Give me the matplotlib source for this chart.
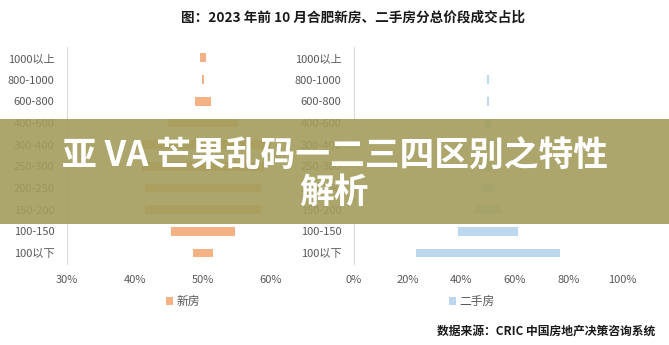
import matplotlib
matplotlib.use('Agg')
import matplotlib.pyplot as plt
from matplotlib.patches import Rectangle
from matplotlib.ticker import FuncFormatter

plt.rcParams['font.family'] = ['Noto Sans CJK SC', 'DejaVu Sans']

# price bands (bottom to top)
bands = ['100以下', '100-150', '150-200', '200-250', '250-300',
         '300-400', '400-600', '600-800', '800-1000', '1000以上']
new_share = [0.029, 0.094, 0.171, 0.170, 0.179, 0.200, 0.102, 0.024, 0.003, 0.010]
second_share = [0.540, 0.222, 0.095, 0.050, 0.030, 0.030, 0.020, 0.008, 0.004, 0.003]

title = '图：2023 年前 10 月合肥新房、二手房分总价段成交占比'
source = '数据来源：CRIC 中国房地产决策咨询系统'
banner = '亚 VA 芒果乱码一二三四区别之特性\n解析'

tick_color = '#595959'

fig = plt.figure(figsize=(6.69, 3.45), dpi=100)
ax1 = fig.add_axes([0.1001, 0.2348, 0.3049, 0.6290])
ax2 = fig.add_axes([0.5291, 0.2348, 0.4006, 0.6290])

pct = FuncFormatter(lambda v, p: f'{v*100:.0f}%')

for ax, vals, color, label, lim, ticks in [
        (ax1, new_share, '#F4B183', '新房', (0.3, 0.6), [0.3, 0.4, 0.5, 0.6]),
        (ax2, second_share, '#BDD7EE', '二手房', (0, 1.0), [0, 0.2, 0.4, 0.6, 0.8, 1.0])]:
    left = [0.5 - v / 2 for v in vals]
    ax.barh(bands, vals, left=left, height=0.4, color=color, label=label)
    ax.set_xlim(*lim)
    ax.set_ylim(-0.5, len(bands) - 0.5)
    ax.set_xticks(ticks)
    ax.xaxis.set_major_formatter(pct)
    for s in ['top', 'right', 'bottom']:
        ax.spines[s].set_visible(False)
    ax.spines['left'].set_color('#D9D9D9')
    ax.tick_params(length=0, labelsize=8, colors=tick_color, pad=8)
    ax.tick_params(axis='y', pad=9)

ax1.legend(loc='center', bbox_to_anchor=(0.274, 0.125), bbox_transform=fig.transFigure,
           frameon=False, fontsize=8.5, handlelength=0.6, handleheight=0.6,
           handletextpad=0.3, labelcolor=tick_color)
ax2.legend(loc='center', bbox_to_anchor=(0.705, 0.125), bbox_transform=fig.transFigure,
           frameon=False, fontsize=8.5, handlelength=0.6, handleheight=0.6,
           handletextpad=0.3, labelcolor=tick_color)

fig.text(0.528, 0.948, title, ha='center', va='center', fontsize=9.8,
         fontweight='bold', color='#1a1a1a')
fig.text(0.979, 0.040, source, ha='right', va='center', fontsize=8.5,
         fontweight='bold', color='#1a1a1a')

# overlay banner
fig.patches.append(Rectangle((0, 0.3507), 1, 0.3043, transform=fig.transFigure,
                             facecolor='#A39D5C', alpha=0.9, zorder=10))
fig.text(0.5, 0.495, banner, ha='center', va='center', fontsize=25,
         fontweight='heavy', color='white', linespacing=1.05, zorder=11)

fig.savefig('out.png', dpi=100)
